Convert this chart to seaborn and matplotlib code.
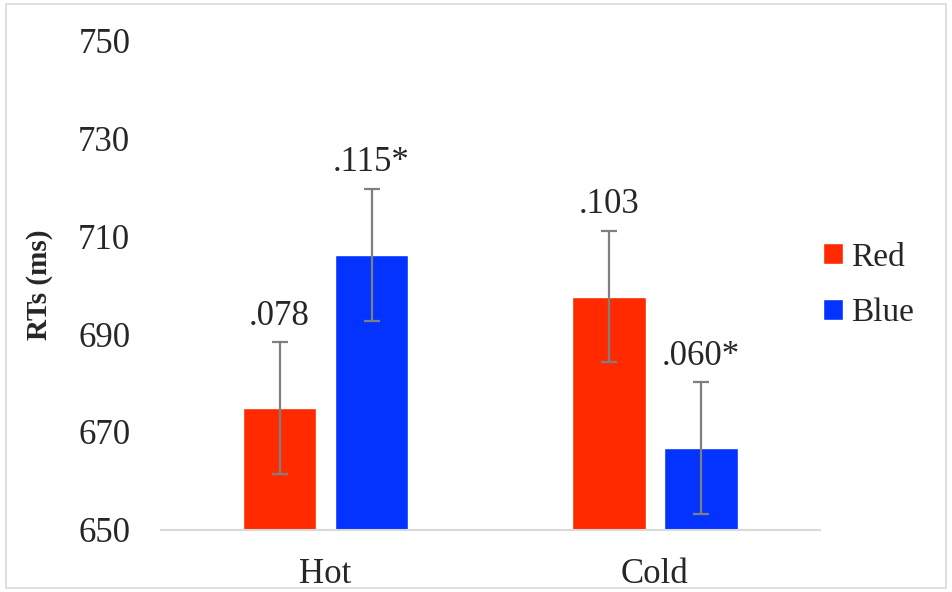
import seaborn as sns
import pandas as pd
import numpy as np
import matplotlib.pyplot as plt
from matplotlib.patches import Rectangle

# values
temps = ["Hot", "Hot", "Cold", "Cold"]
colours = ["Red", "Blue", "Red", "Blue"]
rt_ms = [674.9, 706.1, 697.6, 666.7]
err_ms = [13.4, 13.5, 13.4, 13.4]
bar_labels = [".078", ".115*", ".103", ".060*"]

df = pd.DataFrame({"Temp": temps, "Colour": colours, "RT": rt_ms,
                   "Err": err_ms, "Label": bar_labels})

sns.set_style("white")
plt.rcParams["font.family"] = ["Liberation Serif", "DejaVu Serif"]

fig = plt.figure(figsize=(9.52, 5.92), dpi=100)
ax = fig.add_axes([0.169, 0.105, 0.692, 0.827])

pal = {"Red": "#FF2A00", "Blue": "#0433FF"}
sns.barplot(data=df, x="Temp", y="RT", hue="Colour", palette=pal,
            width=0.558, gap=0.2, errorbar=None, saturation=1, ax=ax)

# error bars and value labels at the bar centres
for level, cont in zip(["Red", "Blue"], ax.containers):
    sub = df[df.Colour == level].set_index("Temp").loc[["Hot", "Cold"]]
    for bar, (_, row) in zip(cont, sub.iterrows()):
        cx = bar.get_x() + bar.get_width() / 2
        ax.errorbar(cx, row.RT, yerr=row.Err, color="#7F7F7F", lw=1.6,
                    capsize=5.8, capthick=1.6)
        ax.annotate(row.Label, (cx, row.RT + row.Err), xytext=(0, 7),
                    textcoords="offset points", ha="center", va="bottom",
                    fontsize=25)

ax.set_xlim(-0.5, 1.5)
ax.set_ylim(650, 750)
ax.set_yticks(np.arange(650, 751, 20))
ax.set_xlabel("")
ax.set_ylabel("RTs (ms)", fontsize=21, fontweight="bold", labelpad=18)
ax.tick_params(axis="both", labelsize=25, length=0)
ax.tick_params(axis="y", pad=22)
ax.tick_params(axis="x", pad=20)

for side in ["top", "right", "left"]:
    ax.spines[side].set_visible(False)
ax.spines["bottom"].set_color("#D9D9D9")
ax.spines["bottom"].set_linewidth(1.5)

ax.legend(loc="center left", bbox_to_anchor=(0.995, 0.5), frameon=False,
          fontsize=24, handlelength=0.6, handleheight=0.6,
          handletextpad=0.25, labelspacing=0.75, borderaxespad=0, borderpad=0.2)

fig.patches.append(Rectangle((0.006, 0.006), 0.988, 0.988, transform=fig.transFigure,
                             fill=False, edgecolor="#D9D9D9", lw=1.2))

fig.savefig("out.png", dpi=100)
